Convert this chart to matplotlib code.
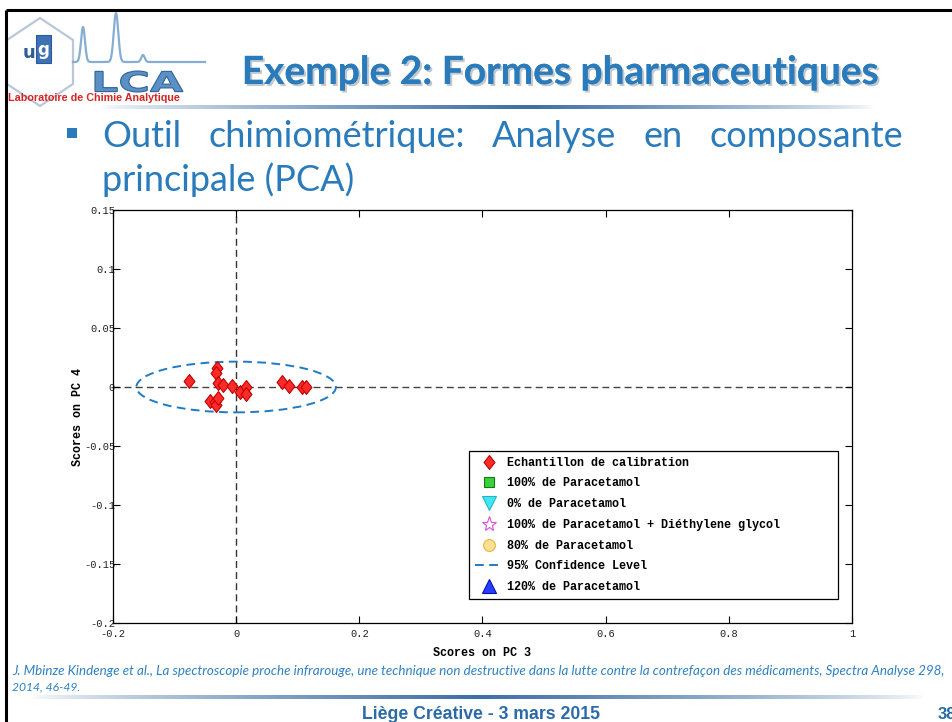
import numpy as np
import matplotlib
matplotlib.use('Agg')
import matplotlib.pyplot as plt
import matplotlib.patheffects as pe
from matplotlib.patches import Ellipse, Rectangle, Polygon, PathPatch
from matplotlib.textpath import TextPath
from matplotlib.font_manager import FontProperties
from matplotlib.transforms import Affine2D
from matplotlib.colors import to_rgb

plt.rcParams['axes.unicode_minus'] = False

### PCA scores of the calibration samples
pc3 = [-0.076, -0.031, -0.033, -0.029, -0.022, -0.007, -0.043, -0.034, -0.033,
       -0.030, 0.006, 0.016, 0.016, 0.074, 0.085, 0.107, 0.114]
pc4 = [0.0055, 0.0158, 0.0116, 0.0031, 0.0017, 0.0011, -0.0119, -0.0124, -0.0153,
       -0.0096, -0.0040, -0.0003, -0.0062, 0.0040, 0.0008, 0.0003, -0.0003]

### 95% confidence ellipse
ell_center = (0.0, 0.0)
ell_width = 0.324
ell_height = 0.043

xticks = [-0.2, 0, 0.2, 0.4, 0.6, 0.8, 1]
xticklabels = ['-0.2', '0', '0.2', '0.4', '0.6', '0.8', '1']
yticks = [-0.2, -0.15, -0.1, -0.05, 0, 0.05, 0.1, 0.15]
yticklabels = ['-0.2', '-0.15', '-0.1', '-0.05', '0', '0.05', '0.1', '0.15']

labels = ['Echantillon de calibration', '100% de Paracetamol', '0% de Paracetamol',
          '100% de Paracetamol + Diéthylene glycol', '80% de Paracetamol',
          '95% Confidence Level', '120% de Paracetamol']

title = 'Exemple 2: Formes pharmaceutiques'
bullet_words = ['Outil', 'chimiométrique:', 'Analyse', 'en', 'composante']
bullet_line2 = 'principale (PCA)'
citation1 = ('J. Mbinze Kindenge et al., La spectroscopie proche infrarouge, une technique non '
             'destructive dans la lutte contre la contrefaçon des médicaments, Spectra Analyse 298,')
citation2 = '2014, 46-49.'
footer = 'Liège Créative - 3 mars 2015'
slide_no = '38'

blue = '#2a7bbb'
mono = 'Liberation Mono'
W, H = 953, 722

fig = plt.figure(figsize=(W / 100, H / 100), dpi=100)
fig.patch.set_facecolor('white')
renderer = fig.canvas.get_renderer()

### overlay in pixel coords for the slide decoration
ov = fig.add_axes([0, 0, 1, 1])
ov.axis('off')


def fit_text(s, x0, x1, y, size=10, **kw):
    t = ov.text(x0, y, s, fontsize=size, ha='left', va='baseline', **kw)
    w = t.get_window_extent(renderer).width
    t.set_fontsize(size * (x1 - x0) / w)
    return t


def fade_line(x0, x1, y, h, color, peak=0.45):
    t = np.linspace(0, 1, 400)
    a = np.clip(np.minimum(t / peak, (1 - t) / (1 - peak)), 0, 1) ** 0.7
    img = np.zeros((1, t.size, 4))
    img[..., :3] = to_rgb(color)
    img[0, :, 3] = a
    ov.imshow(img, extent=(x0, x1, y + h / 2, y - h / 2), aspect='auto', interpolation='bilinear')


# slide frame
ov.plot([6, W], [10, 10], color='black', lw=2.2, solid_capstyle='butt')
ov.plot([6, 6], [10, H], color='black', lw=2.2, solid_capstyle='butt')

# logo
ov.add_patch(Polygon([(40, 18), (73, 40), (73, 84), (40, 106), (7, 84), (7, 40)],
                     closed=True, fill=False, ec='#b9c7d8', lw=1.6))
xs = np.linspace(73, 205, 500)
peaks = 62 - 35 * np.exp(-((xs - 83) / 2.8) ** 2) - 49 * np.exp(-((xs - 116) / 3.2) ** 2) \
    - 7 * np.exp(-((xs - 143) / 2.5) ** 2)
ov.plot(xs, peaks, color='#86aed4', lw=1.6)
ov.add_patch(Rectangle((36, 35), 15, 28, fc='#3f72b5', ec='#2b5a95', lw=0.8))
ov.text(29, 58, 'u', fontsize=13, fontweight='bold', color='#2d5c98', ha='center', va='baseline')
ov.text(43.5, 55, 'g', fontsize=12, fontweight='bold', color='white', ha='center', va='baseline')
tp = TextPath((0, 0), 'LCA', prop=FontProperties(family='DejaVu Sans', weight='bold'))
bb = tp.get_extents()
sx, sy = 88 / bb.width, 21 / bb.height
tr = Affine2D().translate(-bb.x0, -bb.y0).scale(sx, -sy).translate(95, 92)
ov.add_patch(PathPatch(tr.transform_path(tp), fc='#5a90c6', ec='#2f6296', lw=0.8))
fit_text('Laboratoire de Chimie Analytique', 8, 183, 101, size=6, color='#d42525',
         fontweight='bold', family='Liberation Sans')

# title
ttl = ov.text(560, 84, title, fontsize=28, fontweight='bold', family='Lato', color=blue,
              ha='center', va='baseline')
ttl.set_path_effects([pe.withSimplePatchShadow(offset=(1.5, -1.5), shadow_rgbFace='#9aa4ae',
                                               alpha=0.6), pe.Normal()])
fade_line(100, 875, 107, 4, '#3d6fa3', peak=0.55)

# bullet text, line 1 justified
ov.add_patch(Rectangle((67, 128), 10, 10, fc=blue, ec='none'))
x_left, x_right = 102, 903
words = [ov.text(0, 147, w_, fontsize=26, family='Lato', color=blue, va='baseline')
         for w_ in bullet_words]
widths = [t.get_window_extent(renderer).width for t in words]
gap = (x_right - x_left - sum(widths)) / (len(words) - 1)
x = x_left
for t, w_ in zip(words, widths):
    t.set_x(x)
    x += w_ + gap
ov.text(x_left, 191, bullet_line2, fontsize=26, family='Lato', color=blue, va='baseline')

# citation + footer
fit_text(citation1, 12, 937, 675, size=9, family='Lato', style='italic', color='#2f80c3')
fit_text(citation2, 12, 80, 690, size=9, family='Lato', style='italic', color='#2f80c3')
fade_line(30, 925, 697, 4, '#3d6fa3', peak=0.5)
fit_text(footer, 362, 598, 719, size=12, family='Liberation Sans', fontweight='bold',
         color='#2a6aa8')
ov.text(938, 719, slide_no, fontsize=12, family='Liberation Sans', fontweight='bold',
        color='#2a6aa8', va='baseline')

ov.set_xlim(0, W)
ov.set_ylim(H, 0)

### PCA score plot
ax = fig.add_axes([113 / W, 1 - 623 / H, 739 / W, 413 / H])
diamond = [(0, 1), (0.78, 0), (0, -1), (-0.78, 0), (0, 1)]
dash = (0, (4.5, 2.8))

ax.axvline(0, color='#333333', lw=1.0, ls=(0, (5, 3)), zorder=1)
ax.axhline(0, color='#444444', lw=1.0, ls=(0, (5, 3)), zorder=1)
ax.add_patch(Ellipse(ell_center, ell_width, ell_height, fill=False, ec='#1f7ac4',
                     lw=1.4, ls=dash, zorder=2))

h_cal, = ax.plot(pc3, pc4, ls='none', marker=diamond, ms=10, mfc='#ff2a2a', mec='#c00000',
                 mew=0.8, zorder=3)
h_100, = ax.plot([], [], ls='none', marker='s', ms=7, mfc='#3ad13a', mec='#127a12', mew=0.8)
h_0, = ax.plot([], [], ls='none', marker='v', ms=9.5, mfc='#3fe6f2', mec='#23b4c4', mew=0.8)
h_deg, = ax.plot([], [], ls='none', marker='*', ms=11, mfc='white', mec='#d84fd8', mew=0.8)
h_80, = ax.plot([], [], ls='none', marker='o', ms=8.5, mfc='#ffe08e', mec='#e3b64a', mew=0.8)
h_cl, = ax.plot([], [], color='#1f7ac4', lw=1.4, ls=dash)
h_120, = ax.plot([], [], ls='none', marker='^', ms=9.5, mfc='#2a3cff', mec='#0010b0', mew=0.8)

ax.set_xlim(-0.2, 1)
ax.set_ylim(-0.2, 0.15)
ax.set_xticks(xticks)
ax.set_xticklabels(xticklabels)
ax.set_yticks(yticks)
ax.set_yticklabels(yticklabels)
ax.tick_params(direction='in', length=5, width=0.8, top=True, right=True, labelsize=7.5,
               labelcolor='#222222')
ax.tick_params(axis='y', pad=-1.5)
ax.tick_params(axis='x', pad=4)
for lab in ax.get_xticklabels() + ax.get_yticklabels():
    lab.set_family(mono)
for sp in ax.spines.values():
    sp.set_linewidth(0.9)

ax.set_xlabel('Scores on PC 3', family=mono, fontweight='bold', fontsize=8.5, labelpad=6)
ax.set_ylabel('Scores on PC 4', family=mono, fontweight='bold', fontsize=8.5, labelpad=0)

leg = ax.legend([h_cal, h_100, h_0, h_deg, h_80, h_cl, h_120], labels,
                loc='lower left', bbox_to_anchor=(0.4817, 0.058, 0.4993, 0.358), mode='expand',
                borderaxespad=0, prop=FontProperties(family=mono, weight='bold', size=8.5),
                fancybox=False, edgecolor='black', framealpha=1, handlelength=2.4,
                handletextpad=0.3, labelspacing=0.74, borderpad=0.5)
leg.get_frame().set_linewidth(0.9)

fig.savefig('out.png', dpi=100)
